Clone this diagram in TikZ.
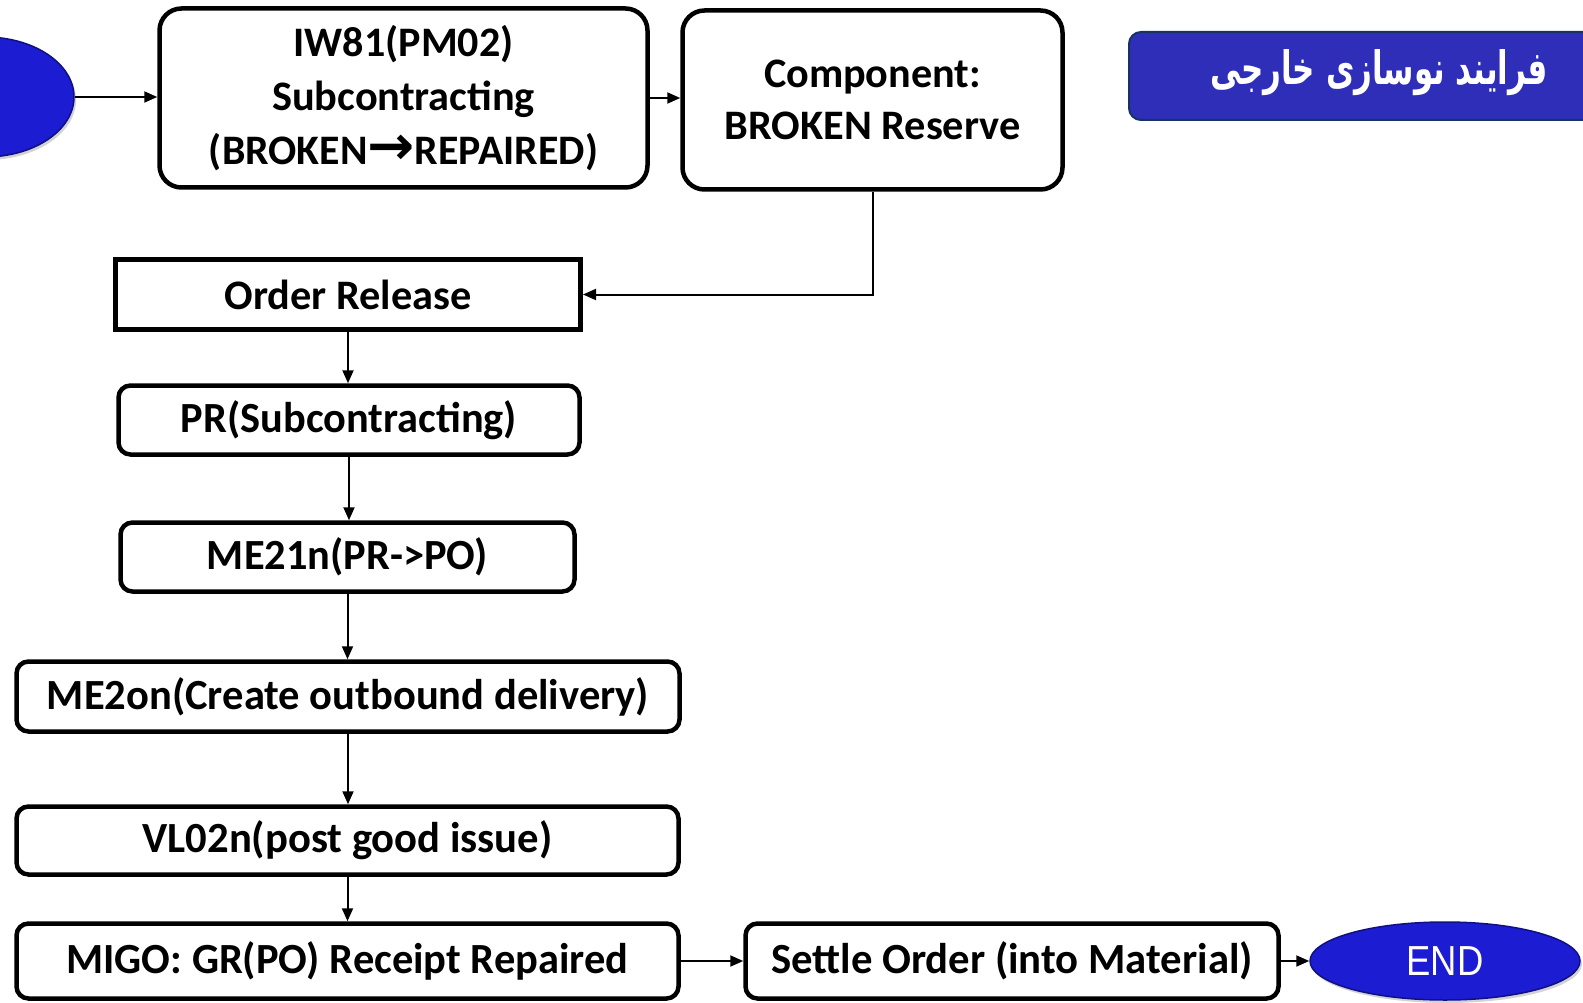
\documentclass[tikz,border=0pt]{standalone}
\usepackage{fontspec}
\usepackage{graphicx}
\setmainfont{Carlito}
\newfontfamily\arrowfont{DejaVu Sans}
\newfontfamily\arabicfont[Script=Arabic]{DejaVu Sans Bold}
\newfontfamily\endfont{Liberation Sans}
\TeXXeTstate=1
\usetikzlibrary{arrows.meta,shapes.geometric,shadows}
\definecolor{ellblue}{RGB}{28,28,210}
\definecolor{ellrim}{RGB}{16,16,130}
\definecolor{titleblue}{RGB}{46,46,184}
\definecolor{titlerim}{RGB}{25,50,100}
\newcommand{\fw}[2]{\resizebox{#1pt}{\height}{#2}}
\tikzset{
  bigbox/.style={draw, line width=4.5pt, rounded corners=22pt, inner sep=0pt, align=center,
     font=\fontsize{42}{54}\selectfont\bfseries},
  smallbox/.style={draw, line width=4.5pt, rounded corners=12pt, inner sep=0pt, align=center,
     font=\fontsize{43}{48}\selectfont\bfseries},
  sharpbox/.style={draw, line width=5pt, inner sep=0pt, align=center,
     font=\fontsize{42}{48}\selectfont\bfseries},
  blueell/.style={ellipse, draw=ellrim, line width=1.5pt, fill=ellblue, inner sep=0pt,
     drop shadow={opacity=0.35, shadow xshift=2pt, shadow yshift=-3pt}},
  arr/.style={draw, line width=2pt, -{Triangle[length=13pt,width=11pt]}},
}
\begin{document}
\begin{tikzpicture}[x=1pt,y=-1pt]
\useasboundingbox (0,0) rectangle (1583,1003);
\begin{scope}
\clip (0,0) rectangle (1583,1003);
% start ellipse
\node[blueell, minimum width=178pt, minimum height=120pt] (start) at (-15,97) {};
% title
\node[draw=titlerim, line width=2pt, fill=titleblue, rounded corners=12pt, inner sep=0pt,
  minimum width=480pt, minimum height=88pt, anchor=west] (title) at (1128,76) {};
\node[text=white, font=\fontsize{46}{48}\selectfont] (titletext) at (1379,73)
  {\fw{338}{\arabicfont\beginR فرایند نوسازی خارجی\endR}};
% top boxes
\node[bigbox, minimum width=488pt, minimum height=179pt] (iw) at (403.5,98)
  {\fw{220}{IW81(PM02)}\\ \fw{263}{Subcontracting}\\ \fw{389}{(BROKEN{\arrowfont\bfseries\scalebox{1.35}[1.3]{→}}REPAIRED)}};
\node[bigbox, minimum width=380pt, minimum height=179pt, font=\fontsize{42}{52}\selectfont\bfseries] (comp) at (872.5,100)
  {\fw{217}{Component:}\\ \fw{296}{BROKEN Reserve}};
% column
\node[sharpbox, minimum width=465pt, minimum height=70pt] (or) at (348,294.5) {\fw{247}{Order Release}};
\node[smallbox, minimum width=461pt, minimum height=69pt] (pr) at (349,420) {\fw{336}{PR(Subcontracting)}};
\node[smallbox, minimum width=454pt, minimum height=69pt] (me21) at (347.5,557) {\fw{281}{ME21n(PR->PO)}};
\node[smallbox, minimum width=663pt, minimum height=70pt] (me2on) at (348,696.5) {\fw{602}{ME2on(Create outbound delivery)}};
\node[smallbox, minimum width=662pt, minimum height=68pt] (vl) at (347.5,840.5) {\fw{410}{VL02n(post good issue)}};
\node[smallbox, minimum width=662pt, minimum height=75pt] (migo) at (347.5,961) {\fw{562}{MIGO: GR(PO) Receipt Repaired}};
\node[smallbox, minimum width=533pt, minimum height=75pt] (settle) at (1012,961) {\fw{482}{Settle Order (into Material)}};
\node[blueell, minimum width=270pt, minimum height=78pt, text=white,
  font=\fontsize{42}{44}\selectfont\endfont] (endn) at (1445,961) {\fw{77}{END}};
% connectors
\draw[arr] (start.east) -- (iw.west |- start.east);
\draw[arr] (iw.east) -- (comp.west |- iw.east);
\coordinate (turn) at (comp.south |- or.east);
\draw[arr] (comp.south) -- (turn) -- (or.east);
\draw[arr] (or.south) -- (or.south |- pr.north);
\draw[arr] (pr.south) -- (pr.south |- me21.north);
\draw[arr] (me21.south) -- (me21.south |- me2on.north);
\draw[arr] (me2on.south) -- (me2on.south |- vl.north);
\draw[arr] (vl.south) -- (vl.south |- migo.north);
\draw[arr] (migo.east) -- (settle.west);
\draw[arr] (settle.east) -- (endn.west);
\end{scope}
\end{tikzpicture}
\end{document}
